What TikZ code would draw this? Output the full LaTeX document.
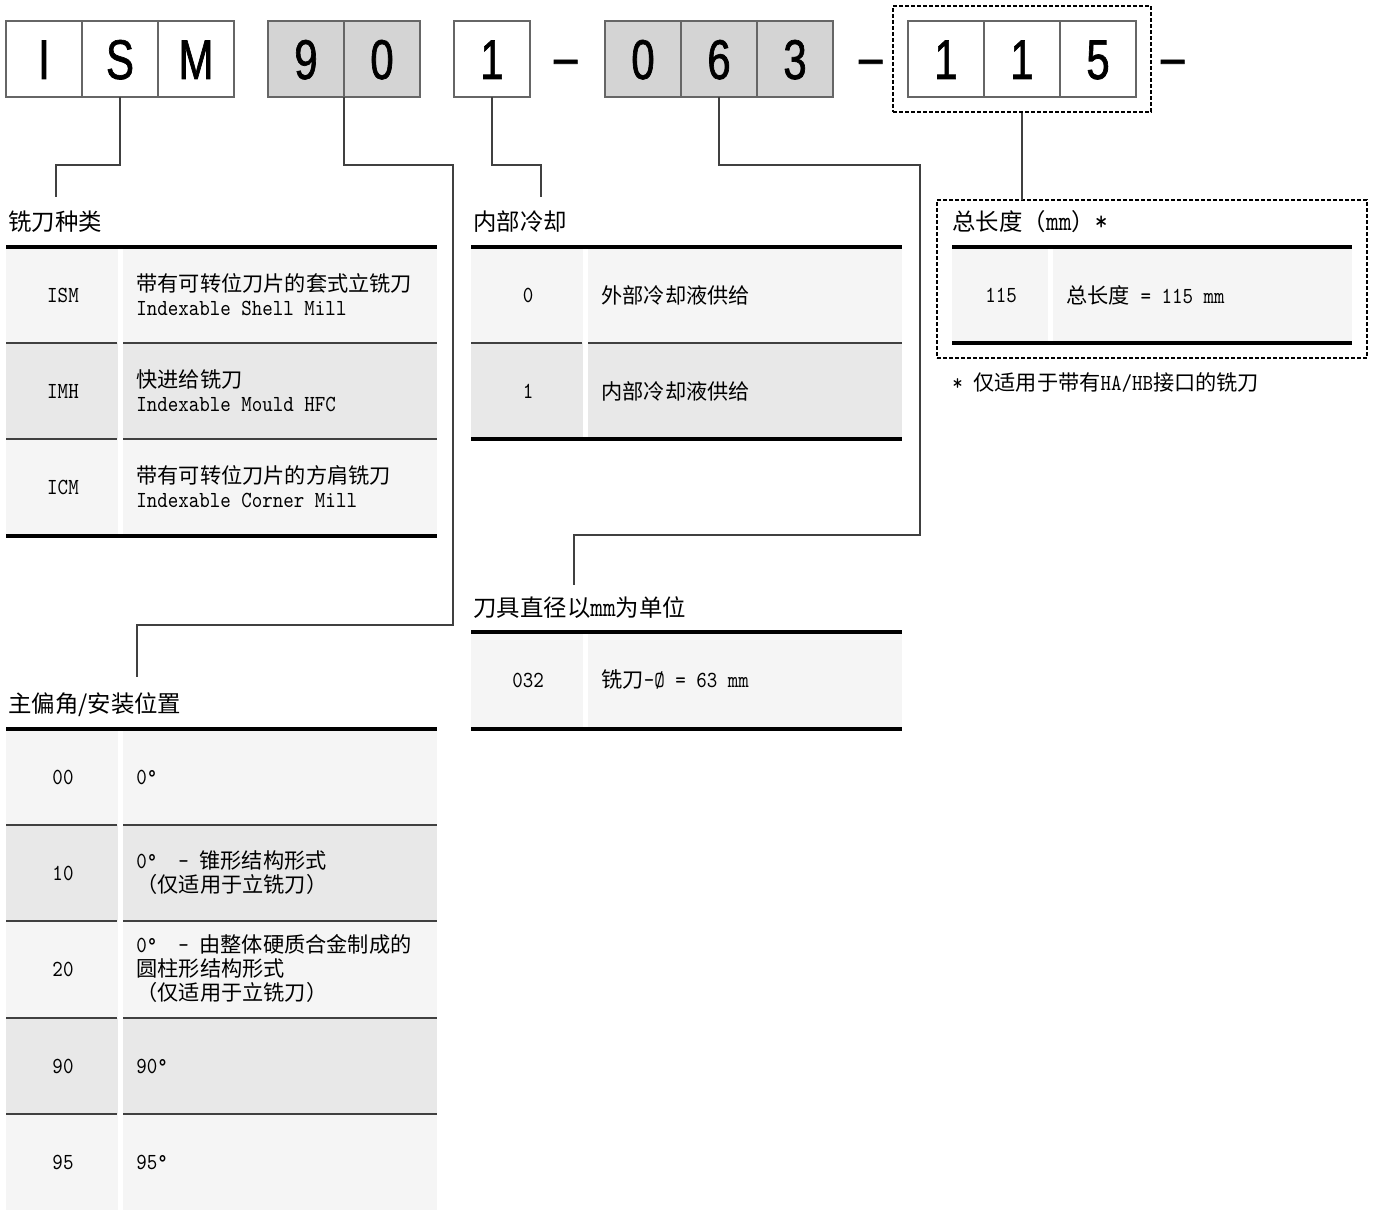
\documentclass[tikz,border=0pt]{standalone}
\usepackage{fontspec}
\setmainfont{Noto Sans CJK SC}
\newfontfamily\latfont[FakeStretch=0.87]{lmmono10-regular.otf}
\newfontfamily\codefont[FakeStretch=0.75, FakeBold=1.2]{Liberation Sans}
\newcommand{\lat}{\latfont\fontsize{11.5}{12}\selectfont}
\newcommand{\lathead}{\latfont\fontsize{14}{14}\selectfont}
\usetikzlibrary{positioning, fit}

% one table row: left x, split x, right x, top y, fill, name, code, text
\newcommand{\specrow}[8]{%
  \fill[#5] (#1,#4) rectangle ({#2-2.5},{#4+96});
  \fill[#5] ({#2+2.5},#4) rectangle (#3,{#4+96});
  \draw[rowrule] (#1,#4) -- ({#2-3},#4) ({#2+3},#4) -- (#3,#4);
  \node[codetext] (#6c) at ({(#1+#2)/2},{#4+48}) {#7};
  \node[desctext] (#6d) at ({#2+16},{#4+48}) {#8};
}

\begin{document}
\begin{tikzpicture}[x=0.5pt, y=-0.5pt, font=\fontsize{10.6}{12}\selectfont,
    codecell/.style={draw=boxgray, line width=0.6pt, minimum width=38pt, minimum height=38pt,
        inner sep=0pt, outer sep=0pt, text height=20pt, text depth=0pt,
        font=\codefont\fontsize{28}{30}\selectfont},
    dashsign/.style={inner sep=0pt, outer sep=0pt, font=\codefont\fontsize{28}{30}\selectfont},
    link/.style={draw=linkgray, line width=0.75pt},
    dashbox/.style={draw=black, line width=0.6pt, dash pattern=on 2pt off 1pt},
    rowrule/.style={draw=rulegray, line width=0.7pt},
    headrule/.style={draw=black, line width=2pt},
    codetext/.style={font=\lat, inner sep=0pt},
    desctext/.style={anchor=west, align=left, inner sep=0pt},
    headtext/.style={anchor=west, inner sep=0pt, font=\fontsize{11.7}{14}\selectfont}]

    % Define colors
    \colorlet{boxgray}{black!60}
    \colorlet{codegray}{black!17}
    \colorlet{linkgray}{black!75}
    \colorlet{rulegray}{black!75}
    \colorlet{rowlight}{black!4}
    \colorlet{rowdark}{black!9}

    \useasboundingbox (0,0) rectangle (1379,1209);

    % ===== CODE (top row) =====
    \node[codecell] (tI) at (44,59) {I};
    \node[codecell, right=0pt of tI] (tS) {S};
    \node[codecell, right=0pt of tS] (tM) {M};

    \node[codecell, fill=codegray, right=17pt of tM] (a9) {9};
    \node[codecell, fill=codegray, right=0pt of a9] (a0) {0};

    \node[codecell, right=17pt of a0] (k1) {1};
    \node[dashsign, anchor=base west] (dashA) at ([xshift=12pt,yshift=1.5pt]k1.base east) {–};

    \node[codecell, fill=codegray, right=37.5pt of k1] (d0) {0};
    \node[codecell, fill=codegray, right=0pt of d0] (d6) {6};
    \node[codecell, fill=codegray, right=0pt of d6] (d3) {3};
    \node[dashsign, anchor=base west] (dashB) at ([xshift=13pt,yshift=1.5pt]d3.base east) {–};

    \node[codecell, right=37.5pt of d3] (l1) {1};
    \node[codecell, right=0pt of l1] (l2) {1};
    \node[codecell, right=0pt of l2] (l5) {5};
    \node[dashsign, anchor=base west] (dashC) at ([xshift=12.5pt,yshift=1.5pt]l5.base east) {–};
    \node[dashbox, fit=(l1)(l5), inner sep=7.5pt] (lenbox) {};

    % 1. Milling cutter type
    \node[headtext] (hType) at (8,222) {铣刀种类};
    \specrow{6}{120}{437}{247}{rowlight}{ism}{ISM}{带有可转位刀片的套式立铣刀\\{\lat Indexable Shell Mill}}
    \specrow{6}{120}{437}{343}{rowdark}{imh}{IMH}{快进给铣刀\\{\lat Indexable Mould HFC}}
    \specrow{6}{120}{437}{439}{rowlight}{icm}{ICM}{带有可转位刀片的方肩铣刀\\{\lat Indexable Corner Mill}}
    \draw[headrule] (6,247) -- (437,247);
    \draw[headrule] (6,536) -- (437,536);

    % 2. Internal cooling
    \node[headtext] (hCool) at (473,222) {内部冷却};
    \specrow{471}{585}{902}{247}{rowlight}{kext}{0}{外部冷却液供给}
    \specrow{471}{585}{902}{343}{rowdark}{kint}{1}{内部冷却液供给}
    \draw[headrule] (471,247) -- (902,247);
    \draw[headrule] (471,439) -- (902,439);

    % 3. Total length (dashed frame)
    \node[dashbox, anchor=north west, minimum width=215pt, minimum height=79pt,
        inner sep=0pt, outer sep=0pt] (lenframe) at (937,200) {};
    \node[headtext] (hLen) at (952,222) {总长度（{\lathead mm}）{\lathead *}};
    \specrow{952}{1050}{1352}{247}{rowlight}{len}{115}{总长度{\lat\ = 115 mm}}
    \draw[headrule] (952,247) -- (1352,247);
    \draw[headrule] (952,343) -- (1352,343);
    \node[desctext] (hNote) at (952,383) {{\lat *\ }仅适用于带有{\lat HA/HB}接口的铣刀};

    % 4. Cutter diameter
    \node[headtext] (hDia) at (473,608) {刀具直径以{\lathead mm}为单位};
    \specrow{471}{585}{902}{632}{rowlight}{dia}{032}{铣刀{\lat -Ø = 63 mm}}
    \draw[headrule] (471,632) -- (902,632);
    \draw[headrule] (471,729) -- (902,729);

    % 5. Lead angle / mounting position
    \node[headtext] (hAngle) at (8,705) {主偏角/安装位置};
    \specrow{6}{120}{437}{729}{rowlight}{ang00}{00}{{\lat 0°}}
    \specrow{6}{120}{437}{825}{rowdark}{ang10}{10}{{\lat 0°\ \ -\ }锥形结构形式\\（仅适用于立铣刀）}
    \specrow{6}{120}{437}{921}{rowlight}{ang20}{20}{{\lat 0°\ \ -\ }由整体硬质合金制成的\\圆柱形结构形式\\（仅适用于立铣刀）}
    \specrow{6}{120}{437}{1018}{rowdark}{ang90}{90}{{\lat 90°}}
    \specrow{6}{120}{437}{1114}{rowlight}{ang95}{95}{{\lat 95°}}
    \draw[headrule] (6,729) -- (437,729);

    % 6. Connectors
    \coordinate (eType) at (56,197);
    \coordinate (eCool) at (541,197);
    \coordinate (eAngle) at (137,677);
    \coordinate (eDia) at (574,585);
    \draw[link] (tS.south) -- ++(0,68) -| (eType);
    \draw[link] (a9.south east) -- ++(0,68) -| (453,625) -| (eAngle);
    \draw[link] (k1.south) -- ++(0,68) -| (eCool);
    \draw[link] (d6.south) -- ++(0,68) -| (920,535) -| (eDia);
    \draw[link] (lenbox.south) -- (lenbox.south |- lenframe.north);

\end{tikzpicture}
\end{document}
